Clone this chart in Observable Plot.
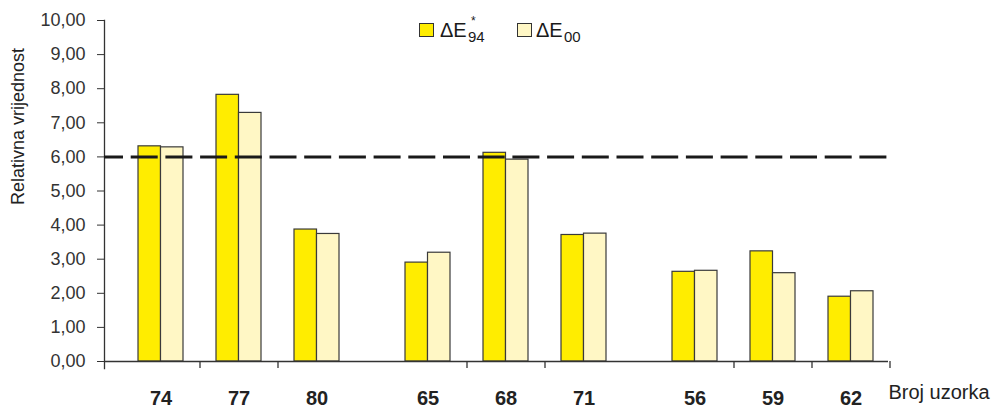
<!DOCTYPE html>
<html>
<head>
<meta charset="utf-8">
<script src="https://cdn.jsdelivr.net/npm/d3@7"></script>
<script src="https://cdn.jsdelivr.net/npm/@observablehq/plot@0.6"></script>
<style>
  html, body { margin: 0; padding: 0; background: #fff; }
  #wrap { position: relative; width: 999px; height: 410px; overflow: hidden; }
  .lg { position: absolute; font-family: "Liberation Sans", Arial, sans-serif; line-height: 1; white-space: nowrap; color: #1a1a1a; }
  .sw { position: absolute; width: 15px; height: 14px; border: 1px solid #333; box-sizing: border-box; }
</style>
</head>
<body>
<div id="wrap">
  <div class="sw" style="left:419px; top:23px; background:#FFED00;"></div>
  <span class="lg" style="left:440px; top:20px; font-size:20px;">ΔE</span>
  <span class="lg" style="left:471px; top:15.4px; font-size:12px;">*</span>
  <span class="lg" style="left:468px; top:29.3px; font-size:15px;">94</span>
  <div class="sw" style="left:517px; top:23px; background:#FFF7C5;"></div>
  <span class="lg" style="left:536px; top:20px; font-size:20px;">ΔE</span>
  <span class="lg" style="left:564px; top:29.3px; font-size:15px;">00</span>
</div>
<script>
// ---- data ----
const sampleGroups = [["74", "77", "80"], ["65", "68", "71"], ["56", "59", "62"]];
const samples = ["74", "77", "80", "65", "68", "71", "56", "59", "62"];
const dE94 = [6.31, 7.82, 3.87, 2.90, 6.12, 3.71, 2.63, 3.23, 1.90];
const dE00 = [6.28, 7.29, 3.74, 3.19, 5.92, 3.75, 2.66, 2.59, 2.06];
const yTicks = [0, 1, 2, 3, 4, 5, 6, 7, 8, 9, 10];
const threshold = [6];
const xTitle = "Broj uzorka";
const yTitle = "Relativna vrijednost";

const rows = samples.map((s, i) => {
  const g = sampleGroups.findIndex(arr => arr.includes(s));
  return { sample: s, group: g, slot: sampleGroups[g].indexOf(s), e94: dE94[i], e00: dE00[i] };
});
const tickRows = rows.filter((d, i) => d.slot < sampleGroups[d.group].length - 1 || i === rows.length - 1);
const facetIdx = sampleGroups.map((_, i) => i);
const lastFacet = facetIdx.length - 1;

const YELLOW = "#FFED00", PALE = "#FFF7C5", EDGE = "#3a3a3a", AX = "#333";
const ML = 104, MR = 94, W = 999;
const facetW = (W - ML - MR) / facetIdx.length;
const dashPeriod = 34.7;

const dashMarks = facetIdx.map(k => Plot.ruleY(threshold, {
  fx: () => k, y: d => d,
  stroke: "#1a1a1a", strokeWidth: 3, strokeDasharray: "27,7.7",
  strokeDashoffset: (8 + k * facetW) % dashPeriod,
  insetRight: k === lastFacet ? 17 : 0
}));

const chart = Plot.plot({
  width: W,
  height: 410,
  marginTop: 20,
  marginBottom: 49,
  marginLeft: ML,
  marginRight: MR,
  style: { fontFamily: "'Liberation Sans', Arial, sans-serif", color: "#222", background: "white", overflow: "visible" },
  fx: { domain: facetIdx, paddingInner: 0, paddingOuter: 0, axis: null },
  x: { domain: [0, 1, 2], paddingInner: 0.423, paddingOuter: 0.423, align: 0.515, axis: null },
  y: { domain: [0, 10] },
  marks: [
    Plot.barY(rows, { fx: "group", x: "slot", y: "e94", fill: YELLOW, stroke: EDGE, strokeWidth: 1.2, insetRight: 22.5 }),
    Plot.barY(rows, { fx: "group", x: "slot", y: "e00", fill: PALE, stroke: EDGE, strokeWidth: 1.2, insetLeft: 22.5 }),
    Plot.axisY({ ticks: yTicks, tickFormat: d => d.toFixed(2).replace(".", ","), tickSize: 7, tickPadding: 12, fontSize: 18, stroke: AX, fill: "#333", label: null }),
    Plot.frame({ facet: "super", anchor: "left", stroke: AX, strokeWidth: 1.3, insetBottom: -7 }),
    Plot.ruleY(facetIdx.filter(k => k !== lastFacet), { fx: d => d, y: () => 0, stroke: AX, strokeWidth: 1.3 }),
    Plot.ruleY([lastFacet], { fx: d => d, y: () => 0, stroke: AX, strokeWidth: 1.3, insetRight: 17 }),
    Plot.ruleX(tickRows, { fx: "group", x: "slot", y1: 0, y2: 0, dx: 39, insetBottom: -7, stroke: AX, strokeWidth: 1.3 }),
    ...dashMarks,
    Plot.text(rows, { fx: "group", x: "slot", y: () => 0, text: "sample", dy: 37, fontSize: 20, fontWeight: "bold", fill: "#222" }),
    Plot.text([xTitle], { facet: "super", frameAnchor: "bottom-right", textAnchor: "start", dx: -17, dy: 37, fontSize: 20, fill: "#222" }),
    Plot.text([yTitle], { facet: "super", frameAnchor: "left", rotate: -90, dx: -86, dy: 14, fontSize: 18, fill: "#222", ariaLabel: "ylabel" })
  ]
});

const wrap = document.getElementById("wrap");
wrap.insertBefore(chart, wrap.firstChild);
const yl = chart.querySelector('g[aria-label="ylabel"] text');
if (yl) { yl.setAttribute("textLength", "185"); yl.setAttribute("lengthAdjust", "spacingAndGlyphs"); }
</script>
</body>
</html>
